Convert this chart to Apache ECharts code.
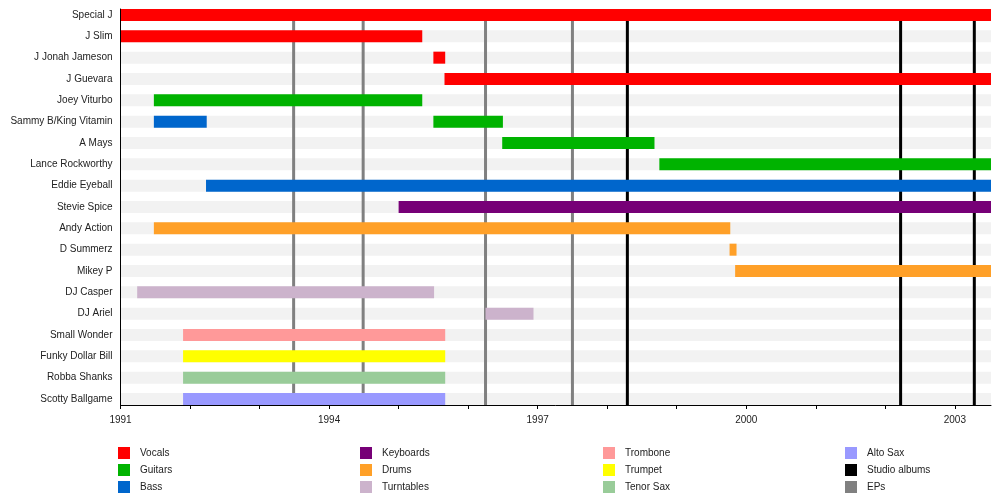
<!DOCTYPE html>
<html>
<head>
<meta charset="utf-8">
<title>Band timeline</title>
<script src="https://cdn.jsdelivr.net/npm/echarts@6/dist/echarts.min.js"></script>
<style>
  html, body { margin: 0; padding: 0; background: #fff; }
  #chart { width: 1000px; height: 504px; }
</style>
</head>
<body>
<div id="chart"></div>
<script>
// members, top to bottom
const MEMBERS = [
    'Special J', 'J Slim', 'J Jonah Jameson', 'J Guevara', 'Joey Viturbo',
    'Sammy B/King Vitamin', 'A Mays', 'Lance Rockworthy', 'Eddie Eyeball',
    'Stevie Spice', 'Andy Action', 'D Summerz', 'Mikey P', 'DJ Casper',
    'DJ Ariel', 'Small Wonder', 'Funky Dollar Bill', 'Robba Shanks', 'Scotty Ballgame'
];

const START = 1991;
const END = 2003.52;
const TICK_YEARS = [1991, 1992, 1993, 1994, 1995, 1996, 1997, 1998, 1999, 2000, 2001, 2002, 2003];
const LABEL_YEARS = [1991, 1994, 1997, 2000, 2003];

// [member index, from, till]
const VOCALS = [[0, 1991, END], [1, 1991, 1995.34], [2, 1995.5, 1995.67], [3, 1995.66, END]];
const GUITARS = [[4, 1991.48, 1995.34], [5, 1995.5, 1996.5], [6, 1996.49, 1998.68], [7, 1998.75, END]];
const BASS = [[5, 1991.48, 1992.24], [8, 1992.23, END]];
const KEYBOARDS = [[9, 1995.0, END]];
const DRUMS = [[10, 1991.48, 1999.77], [11, 1999.76, 1999.86], [12, 1999.84, END]];
const TURNTABLES = [[13, 1991.24, 1995.51], [14, 1996.25, 1996.94]];
const TROMBONE = [[15, 1991.9, 1995.67]];
const TRUMPET = [[16, 1991.9, 1995.67]];
const TENOR_SAX = [[17, 1991.9, 1995.67]];
const ALTO_SAX = [[18, 1991.9, 1995.67]];

// release dates
const STUDIO_ALBUMS = [1998.29, 2002.22, 2003.28];
const EPS = [1993.49, 1994.49, 1996.25, 1997.5];

const BAR_RATIO = 0.5625;
const FONT = 'Liberation Sans, Arial, sans-serif';

const chart = echarts.init(document.getElementById('chart'));

function renderSpan(params, api) {
    const row = api.value(0);
    const from = api.coord([api.value(1), row]);
    const till = api.coord([api.value(2), row]);
    const h = api.size([0, 1])[1] * BAR_RATIO;
    return {
        type: 'rect',
        shape: { x: from[0], y: from[1] - h / 2, width: till[0] - from[0], height: h },
        style: { fill: api.visual('color') }
    };
}

function renderBand(params, api) {
    const row = api.value(0);
    const from = api.coord([START, row]);
    const till = api.coord([END, row]);
    const h = api.size([0, 1])[1] * BAR_RATIO;
    return {
        type: 'rect',
        shape: { x: from[0], y: from[1] - h / 2, width: till[0] - from[0], height: h },
        style: { fill: '#f2f2f2' }
    };
}

function renderRelease(params, api) {
    const x = api.coord([api.value(0), 0])[0];
    const cs = params.coordSys;
    return {
        type: 'line',
        shape: { x1: x, y1: cs.y, x2: x, y2: cs.y + cs.height },
        style: { stroke: api.visual('color'), lineWidth: 3 }
    };
}

function spanSeries(name, color, data) {
    return {
        name: name,
        type: 'custom',
        renderItem: renderSpan,
        itemStyle: { color: color },
        encode: { x: [1, 2], y: 0 },
        data: data,
        z: 5
    };
}

function releaseSeries(name, color, data) {
    return {
        name: name,
        type: 'custom',
        renderItem: renderRelease,
        itemStyle: { color: color },
        encode: { x: 0 },
        data: data.map(d => [d]),
        z: 3
    };
}

function legendColumn(left, names) {
    return {
        orient: 'vertical',
        left: left,
        top: 447,
        padding: 0,
        itemWidth: 12,
        itemHeight: 12,
        itemGap: 5,
        icon: 'rect',
        selectedMode: false,
        textStyle: { color: '#222', fontSize: 10, fontFamily: FONT, padding: [0, 0, 0, 5] },
        data: names
    };
}

const option = {
    animation: false,
    backgroundColor: '#fff',
    grid: { left: 120.5, right: 9, top: 9, bottom: 99 },
    legend: [
        legendColumn(118, ['Vocals', 'Guitars', 'Bass']),
        legendColumn(360, ['Keyboards', 'Drums', 'Turntables']),
        legendColumn(603, ['Trombone', 'Trumpet', 'Tenor Sax']),
        legendColumn(845, ['Alto Sax', 'Studio albums', 'EPs'])
    ],
    xAxis: {
        type: 'value',
        position: 'bottom',
        min: START,
        max: END,
        interval: 1,
        z: 10,
        axisLine: { show: true, onZero: false, lineStyle: { color: '#000', width: 1 } },
        axisTick: { show: true, length: 4, customValues: TICK_YEARS, lineStyle: { color: '#000' } },
        axisLabel: {
            customValues: LABEL_YEARS,
            formatter: (v) => String(v),
            margin: 10,
            color: '#222',
            fontSize: 10,
            fontFamily: FONT
        },
        splitLine: { show: false }
    },
    yAxis: {
        type: 'value',
        inverse: true,
        min: -0.281,
        max: 18.281,
        z: 10,
        axisLine: { show: true, onZero: false, lineStyle: { color: '#000', width: 1 } },
        axisTick: { show: false },
        splitLine: { show: false },
        axisLabel: {
            customValues: MEMBERS.map((_, i) => i),
            formatter: (v) => MEMBERS[Math.round(v)],
            margin: 8,
            color: '#222',
            fontSize: 10,
            fontFamily: FONT
        }
    },
    series: [
        {
            type: 'custom',
            renderItem: renderBand,
            encode: { y: 0 },
            data: MEMBERS.map((_, i) => [i]),
            silent: true,
            z: 1
        },
        releaseSeries('EPs', '#808080', EPS),
        releaseSeries('Studio albums', '#000000', STUDIO_ALBUMS),
        spanSeries('Vocals', '#ff0000', VOCALS),
        spanSeries('Guitars', '#00b300', GUITARS),
        spanSeries('Bass', '#0066cc', BASS),
        spanSeries('Keyboards', '#770077', KEYBOARDS),
        spanSeries('Drums', '#ffa028', DRUMS),
        spanSeries('Turntables', '#ccb3cc', TURNTABLES),
        spanSeries('Trombone', '#ff9999', TROMBONE),
        spanSeries('Trumpet', '#ffff00', TRUMPET),
        spanSeries('Tenor Sax', '#99cc99', TENOR_SAX),
        spanSeries('Alto Sax', '#9999ff', ALTO_SAX)
    ]
};

chart.setOption(option);
</script>
</body>
</html>
